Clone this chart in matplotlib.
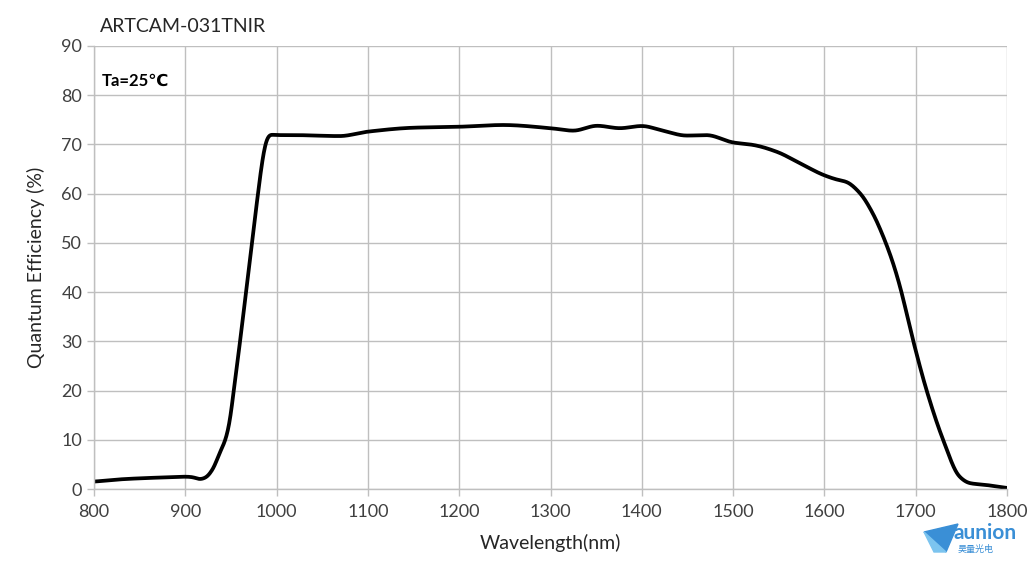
import matplotlib
matplotlib.use("Agg")
import matplotlib.pyplot as plt
from matplotlib.patches import Polygon
import numpy as np

wavelength = [800, 832, 868, 901, 908, 916, 922, 930, 938, 944, 949, 953, 960, 966.5, 973, 979.6, 985, 989, 993,
              1000, 1018, 1069, 1100, 1150, 1201, 1248, 1300, 1325, 1351, 1376, 1400, 1423,
              1449, 1471, 1500, 1522, 1548, 1573, 1599, 1613, 1624, 1639, 1653, 1664, 1675,
              1683, 1697, 1712, 1730, 1748, 1759, 1778, 1800]
qe = [1.5, 2.0, 2.3, 2.5, 2.4, 2.0, 2.3, 4.0, 7.5, 10.0, 14.0, 20.0, 30.0, 40.0, 50.0, 60.0, 67.5, 71.0, 72.0,
      71.9, 71.9, 71.7, 72.6, 73.4, 73.6, 73.95, 73.3, 72.8, 73.8, 73.3, 73.75, 72.8,
      71.8, 71.9, 70.4, 69.9, 68.5, 66.2, 63.8, 62.9, 62.4, 60.1, 56.0, 51.5, 46.0,
      41.0, 30.3, 20.0, 10.0, 2.5, 1.2, 0.8, 0.2]

x_ticks = list(range(800, 1801, 100))
y_ticks = list(range(0, 91, 10))

fam = ['Lato', 'DejaVu Sans']
plt.rcParams['font.family'] = fam


def pchip(x, y, xn):
    x = np.asarray(x, float); y = np.asarray(y, float)
    h = np.diff(x); d = np.diff(y) / h
    m = np.zeros_like(y)
    for i in range(1, len(y) - 1):
        if d[i - 1] * d[i] > 0:
            w1 = 2 * h[i] + h[i - 1]; w2 = h[i] + 2 * h[i - 1]
            m[i] = (w1 + w2) / (w1 / d[i - 1] + w2 / d[i])
    m[0] = d[0]; m[-1] = d[-1]
    idx = np.clip(np.searchsorted(x, xn) - 1, 0, len(x) - 2)
    t = (xn - x[idx]) / h[idx]
    h00 = 2 * t**3 - 3 * t**2 + 1; h10 = t**3 - 2 * t**2 + t
    h01 = -2 * t**3 + 3 * t**2; h11 = t**3 - t**2
    return h00 * y[idx] + h10 * h[idx] * m[idx] + h01 * y[idx + 1] + h11 * h[idx] * m[idx + 1]


fig = plt.figure(figsize=(10.33, 5.64), dpi=100)
ax = fig.add_axes([94/1033, 75/564, 913/1033, 443/564])

xd = np.linspace(800, 1800, 2001)
yd = pchip(wavelength, qe, xd)
# gentle gaussian smoothing (sigma ~2 nm) to soften joins
sig = 4
kx = np.arange(-12, 13)
kern = np.exp(-0.5 * (kx / sig) ** 2); kern /= kern.sum()
yd = np.convolve(np.pad(yd, 12, mode='edge'), kern, mode='valid')
ax.plot(xd, yd, color='black', lw=2.7, solid_capstyle='round')

ax.set_xlim(800, 1800)
ax.set_ylim(0, 90)
ax.set_xticks(x_ticks)
ax.set_yticks(y_ticks)
ax.grid(True, color='#bfbfbf', lw=1)
ax.set_axisbelow(True)
for s in ['top', 'right']:
    ax.spines[s].set_visible(False)
for s in ['left', 'bottom']:
    ax.spines[s].set_color('#bfbfbf')
    ax.spines[s].set_linewidth(1)
ax.tick_params(axis='both', colors='#bfbfbf', labelcolor='#404040', labelsize=13, length=5, width=1)
ax.tick_params(axis='x', pad=6)
ax.set_xlabel('Wavelength(nm)', fontsize=14, color='#262626', labelpad=10)
ax.set_ylabel('Quantum Efficiency (%)', fontsize=14, color='#262626', labelpad=12)

fig.text(100/1033, 1 - 27/564, 'ARTCAM-031TNIR', fontsize=14, color='#262626', va='center', ha='left')
ax.text(808, 83, 'Ta=25\u2103', fontsize=12, fontweight='bold', color='black', va='center', ha='left')

# logo
tri = Polygon([[924/1033, 1 - 532/564], [958/1033, 1 - 524/564], [946/1033, 1 - 552/564]],
              closed=True, transform=fig.transFigure, color='#3a8fd6')
fig.patches.append(tri)
tri2 = Polygon([[924/1033, 1 - 532/564], [946/1033, 1 - 552/564], [934/1033, 1 - 552/564]],
               closed=True, transform=fig.transFigure, color='#7cc4ef')
fig.patches.append(tri2)
fig.text(954/1033, 1 - 533/564, 'aunion', fontsize=15, fontweight='bold', color='#3a8fd6', va='center', ha='left')
fig.text(958/1033, 1 - 549/564, '昊量光电', fontsize=6.5, color='#3a8fd6', va='center', ha='left',
         family=['Noto Sans CJK SC', 'DejaVu Sans'])

fig.savefig('out.png', dpi=100)
